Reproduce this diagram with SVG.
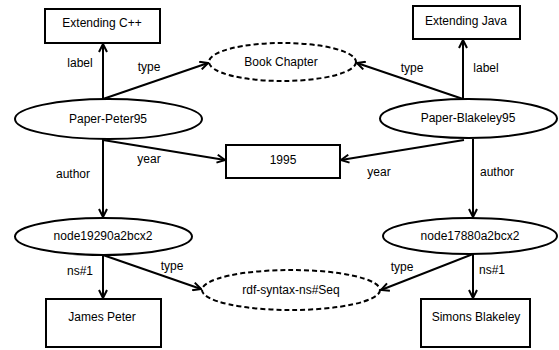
<svg xmlns="http://www.w3.org/2000/svg" width="559" height="350" viewBox="0 0 559 350">
<defs>
<marker id="arr" viewBox="0 0 10 10" refX="9" refY="5" markerWidth="10" markerHeight="10" markerUnits="userSpaceOnUse" orient="auto">
<path d="M1,1 L9,5 L1,9" fill="none" stroke="#000" stroke-width="2"/>
</marker>
<style>
text{font-family:"Liberation Sans",Arial,sans-serif;font-size:12px;fill:#000;text-anchor:middle;dominant-baseline:central}
.box{fill:#fff;stroke:#000;stroke-width:2}
.dash{fill:#fff;stroke:#000;stroke-width:2;stroke-dasharray:5,3}
.edge{stroke:#000;stroke-width:2;fill:none;marker-end:url(#arr)}
</style>
</defs>
<rect width="559" height="350" fill="#fff"/>
<g id="connectors">
<line class="edge" x1="103" y1="99" x2="103" y2="44"/>
<line class="edge" x1="103" y1="99" x2="208" y2="63"/>
<line class="edge" x1="103" y1="140" x2="225" y2="160"/>
<line class="edge" x1="103" y1="139" x2="103" y2="217"/>
<line class="edge" x1="463" y1="99" x2="463" y2="40"/>
<line class="edge" x1="463" y1="99" x2="357" y2="63"/>
<line class="edge" x1="464" y1="140" x2="341" y2="160"/>
<line class="edge" x1="473" y1="139" x2="473" y2="217"/>
<line class="edge" x1="103" y1="255" x2="103" y2="298"/>
<line class="edge" x1="103" y1="255" x2="201" y2="289"/>
<line class="edge" x1="473" y1="254" x2="473" y2="298"/>
<line class="edge" x1="473" y1="254" x2="381" y2="290"/>
<text x="80" y="63">label</text>
<text x="149" y="67">type</text>
<text x="149" y="159">year</text>
<text x="73" y="174">author</text>
<text x="412" y="68">type</text>
<text x="486" y="68">label</text>
<text x="379" y="172">year</text>
<text x="497" y="172">author</text>
<text x="80" y="271">ns#1</text>
<text x="172" y="266">type</text>
<text x="402" y="267">type</text>
<text x="492" y="270">ns#1</text>
</g>
<g id="extending-cpp"><rect class="box" x="45" y="9" width="115" height="34"/><text x="102" y="23">Extending C++</text></g>
<g id="extending-java"><rect class="box" x="413" y="6" width="107" height="33"/><text x="466" y="21">Extending Java</text></g>
<g id="book-chapter"><ellipse class="dash" cx="282.5" cy="62" rx="73.5" ry="19"/><text x="281" y="62">Book Chapter</text></g>
<g id="paper-peter95"><ellipse class="box" cx="108.5" cy="119" rx="93.5" ry="20"/><text x="108" y="119">Paper-Peter95</text></g>
<g id="paper-blakeley95"><ellipse class="box" cx="468.5" cy="118.5" rx="88.5" ry="19.5"/><text x="468" y="118">Paper-Blakeley95</text></g>
<g id="year-1995"><rect class="box" x="226" y="145" width="114" height="33"/><text x="283" y="160">1995</text></g>
<g id="node19290"><ellipse class="box" cx="103.5" cy="236.5" rx="88.5" ry="18.5"/><text x="103" y="236">node19290a2bcx2</text></g>
<g id="node17880"><ellipse class="box" cx="470" cy="236" rx="87" ry="18"/><text x="470" y="236">node17880a2bcx2</text></g>
<g id="rdf-seq"><ellipse class="dash" cx="291" cy="290" rx="89" ry="20"/><text x="291" y="290">rdf-syntax-ns#Seq</text></g>
<g id="james-peter"><rect class="box" x="46" y="299" width="115" height="48"/><text x="102" y="317">James Peter</text></g>
<g id="simons-blakeley"><rect class="box" x="421" y="299" width="109" height="48"/><text x="476" y="317">Simons Blakeley</text></g>
</svg>
